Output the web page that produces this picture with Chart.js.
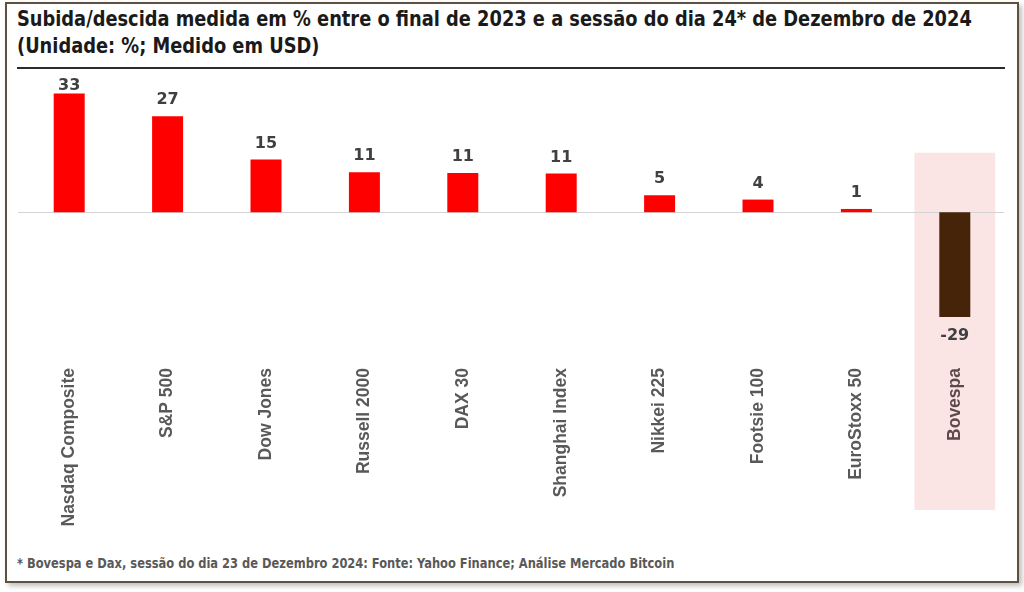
<!DOCTYPE html>
<html>
<head>
<meta charset="utf-8">
<script src="https://cdn.jsdelivr.net/npm/chart.js@4/dist/chart.umd.min.js"></script>
<style>
  body { margin: 0; width: 1024px; height: 592px; background: #fff; overflow: hidden; position: relative; }
  #frame {
    position: absolute; left: 5px; top: 2px; width: 1010px; height: 577px;
    border: 2px solid #5e5140; box-shadow: 3px 3px 5px rgba(0,0,0,0.25);
    background: #fff;
  }
  #title {
    position: absolute; left: 17px; top: 5px; white-space: nowrap;
    font-family: "DejaVu Sans", sans-serif; font-stretch: condensed;
    font-weight: bold; font-size: 22px; line-height: 27px; color: #1a1a1a;
    transform: scaleX(0.90); transform-origin: left top;
  }
  #rule { position: absolute; left: 17px; top: 67px; width: 988px; height: 2px; background: #2b2b2b; }
  #note {
    position: absolute; left: 17px; top: 555px; white-space: nowrap;
    font-family: "DejaVu Sans", sans-serif; font-stretch: condensed;
    font-weight: bold; font-size: 14px; color: #595959;
    transform: scaleX(0.91); transform-origin: left top;
  }
  #wrap { position: absolute; left: 0; top: 0; width: 1024px; height: 592px; }
</style>
</head>
<body>
<div id="frame"></div>
<div id="title">Subida/descida medida em % entre o final de 2023 e a sessão do dia 24* de Dezembro de 2024<br>(Unidade: %; Medido em USD)</div>
<div id="rule"></div>
<div id="note">* Bovespa e Dax, sessão do dia 23 de Dezembro 2024: Fonte: Yahoo Finance; Análise Mercado Bitcoin</div>
<div id="wrap"><canvas id="chart" width="1024" height="592"></canvas></div>
<script>
// Data
const indices = ['Nasdaq Composite', 'S&P 500', 'Dow Jones', 'Russell 2000', 'DAX 30',
  'Shanghai Index', 'Nikkei 225', 'Footsie 100', 'EuroStoxx 50', 'Bovespa'];
const changes = [32.9, 26.6, 14.6, 11.1, 10.9, 10.7, 4.7, 3.5, 0.9, -29.1];
const highlightIndex = 9;

const barColors = indices.map((_, i) => i === highlightIndex ? '#46240a' : '#ff0000');

// pink band behind Bovespa + zero line
const bandPlugin = {
  id: 'band',
  beforeDraw(chart) {
    const { ctx, scales: { x, y }, chartArea } = chart;
    const cx = x.getPixelForValue(highlightIndex);
    const w = x.width / indices.length * 0.82;
    const top = y.getPixelForValue(16.5);
    ctx.save();
    ctx.fillStyle = '#fbe4e4';
    ctx.fillRect(cx - w / 2, top, w, chartArea.bottom + 150 - top);
    ctx.restore();
  },
  beforeDatasetsDraw(chart) {
    const { ctx, scales: { y }, chartArea } = chart;
    const y0 = Math.round(y.getPixelForValue(0)) + 0.5;
    ctx.save();
    ctx.strokeStyle = '#d4d4d4';
    ctx.lineWidth = 1;
    ctx.beginPath();
    ctx.moveTo(chartArea.left - 2, y0);
    ctx.lineTo(chartArea.right, y0);
    ctx.stroke();
    ctx.restore();
  }
};

// value labels above/below bars
const valuePlugin = {
  id: 'values',
  afterDatasetsDraw(chart) {
    const { ctx, chartArea } = chart;
    const meta = chart.getDatasetMeta(0);
    ctx.save();
    ctx.font = 'bold 16px "DejaVu Sans", sans-serif';
    ctx.fillStyle = '#404040';
    ctx.textAlign = 'center';
    meta.data.forEach((bar, i) => {
      const v = changes[i];
      const txt = String(Math.round(v));
      if (v >= 0) {
        ctx.textBaseline = 'bottom';
        ctx.fillText(txt, bar.x, Math.max(bar.y - 8, chartArea.top + 26));
      } else {
        ctx.textBaseline = 'top';
        ctx.fillText(txt, bar.x, bar.y + 11);
      }
    });
    ctx.restore();
  }
};

new Chart(document.getElementById('chart').getContext('2d'), {
  type: 'bar',
  data: {
    labels: indices,
    datasets: [{
      data: changes,
      backgroundColor: barColors,
      barPercentage: 0.315,
      categoryPercentage: 1
    }]
  },
  options: {
    responsive: false,
    animation: false,
    layout: { padding: { left: 20, right: 20, top: 68, bottom: 32 } },
    scales: {
      y: { display: false, min: -41, max: 40 },
      x: {
        grid: { display: false },
        border: { display: false },
        ticks: {
          minRotation: 90,
          maxRotation: 90,
          padding: 0,
          autoSkip: false,
          color: (c) => c.index === highlightIndex ? '#5c4a4a' : '#595959',
          font: { family: '"Liberation Sans", Arial, sans-serif', size: 17.5, weight: 'bold' }
        },
        afterFit(axis) { axis.height = 200; }
      }
    },
    plugins: {
      legend: { display: false },
      tooltip: { enabled: false }
    }
  },
  plugins: [bandPlugin, valuePlugin]
});
</script>
</body>
</html>
